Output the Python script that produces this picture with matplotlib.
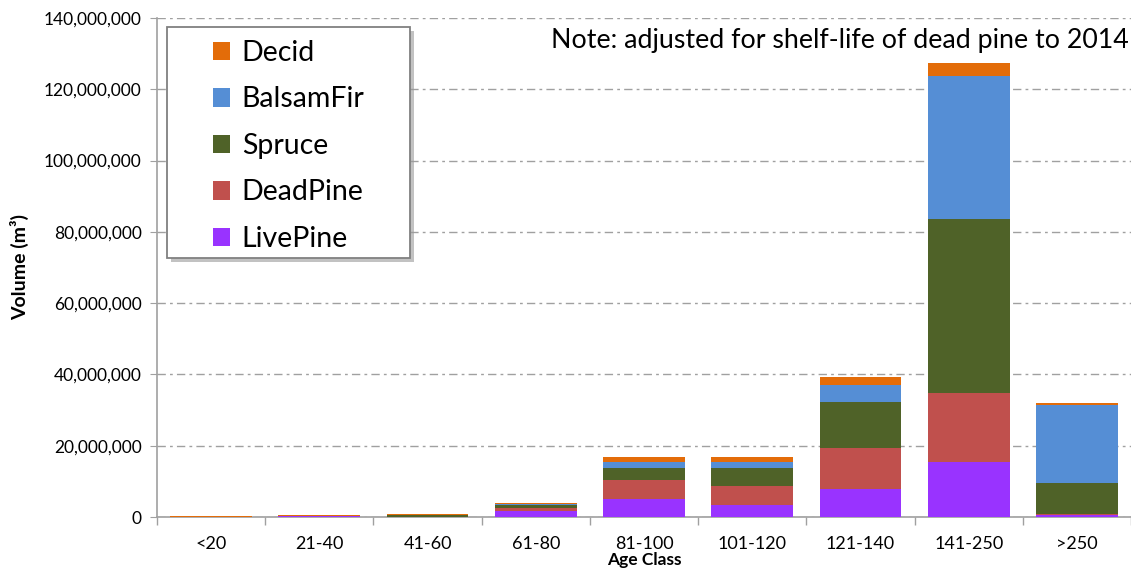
import matplotlib
matplotlib.use("Agg")
import matplotlib.pyplot as plt
import matplotlib.patches as mpatches
import numpy as np
from matplotlib.ticker import FuncFormatter, MultipleLocator

categories = ["<20", "21-40", "41-60", "61-80", "81-100", "101-120", "121-140", "141-250", ">250"]
live_pine = [0.0, 0.4, 0.05, 1.6, 5.0, 3.4, 7.8, 15.5, 0.45]
dead_pine = [0.0, 0.0, 0.0, 0.9, 5.4, 5.4, 11.65, 19.3, 0.5]
spruce    = [0.0, 0.0, 0.4, 0.95, 3.4, 5.0, 12.9, 48.8, 8.6]
balsam    = [0.0, 0.0, 0.0, 0.2, 1.7, 1.7, 4.6, 40.05, 21.85]
decid     = [0.3, 0.3, 0.3, 0.2, 1.25, 1.25, 2.45, 3.75, 0.5]

series_names = ["LivePine", "DeadPine", "Spruce", "BalsamFir", "Decid"]
series_vals = [live_pine, dead_pine, spruce, balsam, decid]
colors = ["#9933FF", "#C0504D", "#4F6228", "#558ED5", "#E36C09"]

plt.rcParams['font.family'] = ['Lato', 'DejaVu Sans']

W, H = 1131, 569
fig = plt.figure(figsize=(W / 100, H / 100), dpi=100)
ax = fig.add_axes([157 / W, 1 - 517 / H, (W - 157) / W, (517 - 18) / H])

x = np.arange(len(categories))
bottom = np.zeros(len(categories))
handles = []
for name, vals, c in zip(series_names, series_vals, colors):
    v = np.array(vals) * 1e6
    b = ax.bar(x, v, width=0.755, bottom=bottom, color=c, label=name,
               edgecolor='none', zorder=3)
    handles.append(b)
    bottom += v

ax.set_xlim(-0.5, len(categories) - 0.5)
ax.set_ylim(0, 140e6)
ax.yaxis.set_major_locator(MultipleLocator(20e6))
ax.yaxis.set_major_formatter(FuncFormatter(lambda v, p: f"{int(round(v)):,}"))
ax.set_xticks(x)
ax.set_xticklabels(categories, fontsize=13)
ax.set_xticks(np.arange(len(categories) + 1) - 0.5, minor=True)
ax.tick_params(axis='x', which='major', length=0, pad=14)
ax.tick_params(axis='x', which='minor', length=6, color='#A0A0A0', width=1)
ax.tick_params(axis='y', labelsize=12.5, length=5, color='#A0A0A0', pad=6)

ax.grid(axis='y', linestyle=(0, (6, 3, 2, 3)), color='#A0A0A0', linewidth=1, zorder=0)
for s in ['top', 'right']:
    ax.spines[s].set_visible(False)
for s in ['left', 'bottom']:
    ax.spines[s].set_color('#A0A0A0')
    ax.spines[s].set_linewidth(1.2)

fig.text((157 + (W - 157) / 2) / W, 1 - 560 / H, "Age Class", fontsize=12.5,
         fontweight='bold', ha='center', va='center')
fig.text(20 / W, 1 - 267 / H, "Volume (m³)", fontsize=14, fontweight='bold',
         rotation=90, ha='center', va='center')

ax.text(0.998, 0.955, "Note: adjusted for shelf-life of dead pine to 2014",
        transform=ax.transAxes, ha='right', va='center', fontsize=19.3)

# legend frame (Excel-like wide padding) with shadow
fx0, fy0, fx1, fy1 = 167, 27, 410, 258
fig.patches.append(mpatches.Rectangle(((fx0 + 4) / W, 1 - (fy1 + 4) / H),
                                      (fx1 - fx0) / W, (fy1 - fy0) / H,
                                      transform=fig.transFigure, facecolor='#9A9A9A',
                                      edgecolor='none', alpha=0.6, zorder=3.9))
fig.patches.append(mpatches.Rectangle((fx0 / W, 1 - fy1 / H), (fx1 - fx0) / W,
                                      (fy1 - fy0) / H, transform=fig.transFigure,
                                      facecolor='white', edgecolor='#808080',
                                      linewidth=1.3, zorder=4))

leg = fig.legend(handles[::-1], series_names[::-1], loc='upper left',
                 bbox_to_anchor=(200 / W, 1 - 27 / H), fontsize=20.5, frameon=False,
                 handlelength=0.62, handleheight=0.62,
                 labelspacing=0.72, borderpad=0.45, handletextpad=0.4,
                 borderaxespad=0.0)
leg.set_zorder(5)

fig.savefig("out.png", dpi=100)
